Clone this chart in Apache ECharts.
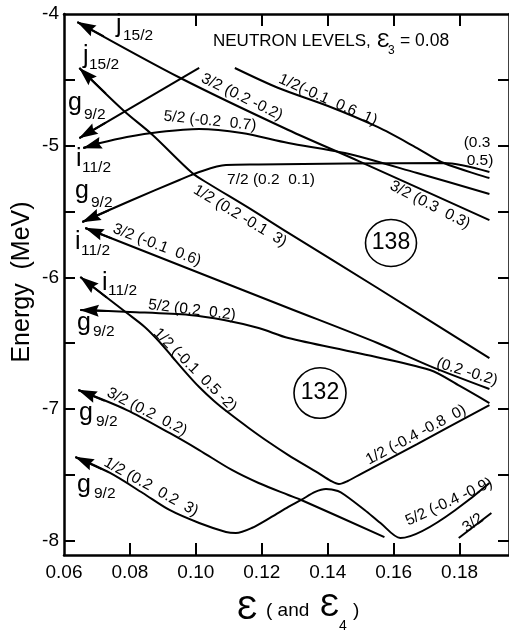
<!DOCTYPE html>
<html><head><meta charset="utf-8">
<script src="https://cdn.jsdelivr.net/npm/echarts@6.0.0/dist/echarts.min.js"></script>
<style>html,body{margin:0;padding:0;background:#fff}#c{width:509px;height:631px}</style>
</head><body><div id="c"></div>
<script>
// ---- axis ticks / labels ----
const xLabelValues = [0.06, 0.08, 0.10, 0.12, 0.14, 0.16, 0.18];
const xBottomTicks = [0.08, 0.10, 0.12, 0.14, 0.16, 0.18];
const xTopTicks = [0.10, 0.12, 0.14, 0.16, 0.18];
const yLabelValues = [-8, -7, -6, -5, -4];
const yTickValues = [-8, -7.5, -7, -6.5, -6, -5.5, -5, -4.5];

// ---- level curves [epsilon, energy MeV]; arrow curves listed from the arrow tip ----
const j15Upper = [[0.06406,-4.061],[0.09531,-4.486],[0.12806,-4.881],[0.14940,-5.117],[0.18906,-5.565]];
const oneHalfTop = [[0.11183,-4.410],[0.12505,-4.562],[0.14009,-4.699],[0.15511,-4.858],[0.16713,-5.018],[0.17524,-5.132],[0.18906,-5.246]];
const fiveHalfUpper = [[0.06586,-5.018],[0.07097,-4.980],[0.07908,-4.934],[0.08899,-4.896],[0.10101,-4.873],[0.11394,-4.904],[0.12806,-4.980],[0.14519,-5.056],[0.16713,-5.208],[0.18906,-5.367]];
const g9Upper = [[0.06466,-4.942],[0.10101,-4.410]];
const j15Lower = [[0.06466,-4.410],[0.07788,-4.729],[0.08689,-4.919],[0.09891,-5.208],[0.10402,-5.291],[0.11604,-5.473],[0.12806,-5.663],[0.15511,-6.081],[0.18906,-6.613]];
const sevenHalf = [[0.06556,-5.580],[0.07998,-5.420],[0.09501,-5.261],[0.10101,-5.200],[0.10913,-5.147],[0.11904,-5.143],[0.14609,-5.136],[0.17524,-5.132],[0.18906,-5.200]];
const threeHalfMid = [[0.06646,-5.625],[0.09801,-5.937],[0.12806,-6.233],[0.15511,-6.499],[0.17103,-6.674],[0.18906,-6.848]];
const i11Lower = [[0.06496,-5.998],[0.07908,-6.271],[0.08449,-6.377],[0.08900,-6.491],[0.09290,-6.605],[0.09711,-6.727],[0.10101,-6.833],[0.10552,-6.939],[0.11003,-7.031],[0.11604,-7.144],[0.12205,-7.251],[0.12806,-7.350],[0.13708,-7.486],[0.14099,-7.547],[0.14339,-7.570],[0.14609,-7.547],[0.15000,-7.494],[0.16713,-7.266],[0.18906,-6.970]];
const fiveHalfMid = [[0.06496,-6.248],[0.07998,-6.263],[0.09801,-6.286],[0.10853,-6.324],[0.11904,-6.385],[0.12806,-6.461],[0.14910,-6.575],[0.17103,-6.704],[0.18005,-6.825],[0.18906,-6.955]];
const threeHalfLow = [[0.06436,-6.856],[0.07908,-7.008],[0.09200,-7.182],[0.10101,-7.312],[0.11093,-7.463],[0.11904,-7.562],[0.12806,-7.653],[0.13197,-7.691],[0.15721,-7.973]];
const oneHalfLow = [[0.06346,-7.365],[0.07397,-7.486],[0.08389,-7.638],[0.09200,-7.767],[0.10101,-7.866],[0.10913,-7.934],[0.11213,-7.942],[0.11694,-7.904],[0.12295,-7.820],[0.12806,-7.744],[0.13197,-7.691],[0.13618,-7.630],[0.13948,-7.608],[0.14309,-7.623],[0.14519,-7.653],[0.15120,-7.767],[0.15601,-7.866],[0.16202,-7.980],[0.18906,-7.562]];
const threeHalfStub = [[0.17975,-7.980],[0.18966,-7.790]];

const arrowCurves = [j15Upper, fiveHalfUpper, g9Upper, j15Lower, sevenHalf, threeHalfMid, i11Lower, fiveHalfMid, threeHalfLow, oneHalfLow];
const plainCurves = [oneHalfTop, threeHalfStub];

// ---- texts ----
const FF = '"Liberation Sans", Arial, Helvetica, sans-serif';
const lineLabels = [
  ['3/2 (0.2 -0.2)', 242, 97, -26],
  ['1/2(-0.1  0.6  1)', 328, 100, -24],
  ['5/2 (-0.2  0.7)', 210, 121, -6],
  ['7/2 (0.2  0.1)', 271, 180, 0],
  ['1/2 (0.2 -0.1  3)', 240, 216, -31],
  ['3/2 (0.3  0.3)', 430, 205, -27],
  ['(0.3', 477, 143, 0],
  ['0.5)', 480, 161, 0],
  ['3/2 (-0.1  0.6)', 157, 245, -21],
  ['5/2 (0.2  0.2)', 192, 310, -7],
  ['1/2 (-0.1  0.5 -2)', 195, 370, -45],
  ['3/2 (0.2  0.2)', 147, 412, -27],
  ['1/2 (0.2  0.2  3)', 151, 487, -29],
  ['(0.2 -0.2)', 467, 372, -17],
  ['1/2 (-0.4 -0.8  0)', 416, 435, 28],
  ['5/2 (-0.4 -0.9)', 449, 502, 25],
  ['3/2', 473, 523, 36]
];
// [main, sub, mainLeft, mainBaseline, subLeft, subBaseline]
const orbitLabels = [
  ['j','15/2',116,33,123,40.5],
  ['j','15/2',83,64,89,69.5],
  ['g','9/2',68,111,84,119.5],
  ['i','11/2',76,167,82,173],
  ['g','9/2',75,199,91,207.5],
  ['i','11/2',75,250,81,256],
  ['i','11/2',102,290.5,108,295.5],
  ['g','9/2',77,331,93,337],
  ['g','9/2',79,421,96,427],
  ['g','9/2',77,492.5,94,498.5]
];

const chart = echarts.init(document.getElementById('c'), null, {renderer:'canvas'});

function txt(text, left, baseline, size, extra) {
  return Object.assign({type:'text', x:left, y:baseline - 0.31*size, silent:true,
    style:{text:text, fontSize:size, fontFamily:FF, fill:'#000', align:'left', verticalAlign:'middle'}}, extra||{});
}
const graphics = [];
lineLabels.forEach(l => graphics.push({type:'text', x:l[1], y:l[2], rotation:l[3]*Math.PI/180, silent:true,
  style:{text:l[0], fontSize:15.5, fontFamily:FF, fill:'#000', align:'center', verticalAlign:'middle'}}));
orbitLabels.forEach(o => { graphics.push(txt(o[0], o[2], o[3], 25)); graphics.push(txt(o[1], o[4], o[5], 15.5)); });
// title
graphics.push(txt('NEUTRON LEVELS,', 213, 47, 17));
graphics.push(txt('\u0190', 377, 48, 21));
graphics.push(txt('3', 388, 54, 12));
graphics.push(txt('= 0.08', 400, 47, 17.5));
// x axis title
graphics.push(txt('\u0190', 237, 620, 34));
graphics.push(txt('( and', 266, 617, 19));
graphics.push(txt('\u0190', 320, 617, 32));
graphics.push(txt('4', 339, 630, 14));
graphics.push(txt(')', 353, 617, 19));
// y axis title
graphics.push({type:'text', x:22, y:282, rotation:Math.PI/2, silent:true,
  style:{text:'Energy  (MeV)', fontSize:25, fontFamily:FF, fill:'#000', align:'center', verticalAlign:'middle'}});
// circled numbers
graphics.push({type:'circle', x:391, y:243, scaleY:0.92, shape:{cx:0, cy:0, r:25.5}, style:{fill:'none', stroke:'#000', lineWidth:1.6}, silent:true});
graphics.push({type:'text', x:391, y:243, silent:true, style:{text:'138', fontSize:23, fontFamily:FF, fill:'#000', align:'center', verticalAlign:'middle'}});
graphics.push({type:'circle', x:320, y:393, scaleY:0.97, shape:{cx:0, cy:0, r:26}, style:{fill:'none', stroke:'#000', lineWidth:1.6}, silent:true});
graphics.push({type:'text', x:320, y:393, silent:true, style:{text:'132', fontSize:23, fontFamily:FF, fill:'#000', align:'center', verticalAlign:'middle'}});

const axisLineStyle = {color:'#000', width:2.5};
const ARROW = 'path://M6,0 L12,19 L6,16.5 L0,19 Z';
function arrowSeg(curve) {
  const p0 = curve[0], p1 = curve[1];
  const f = Math.min(1, 0.008 / Math.abs(p1[0] - p0[0]));
  const start = [p0[0] + f*(p1[0]-p0[0]), p0[1] + f*(p1[1]-p0[1])];
  return [[{coord:start}, {coord:p0}]];
}
const series = [];
arrowCurves.forEach(c => series.push({type:'line', data:c, symbol:'none', smooth:0.3, animation:false, silent:true,
  lineStyle:{color:'#000', width:2},
  markLine:{silent:true, animation:false, symbol:['none', ARROW], symbolSize:[12,19], symbolOffset:[0,[0,9]],
    lineStyle:{color:'#000', width:2, type:'solid'}, label:{show:false}, emphasis:{disabled:true}, data:arrowSeg(c)}}));
plainCurves.forEach(c => series.push({type:'line', data:c, symbol:'none', smooth:0.3, animation:false, silent:true,
  lineStyle:{color:'#000', width:2}}));

chart.setOption({
  animation:false,
  backgroundColor:'#fff',
  grid:{left:64, top:14, width:449, height:541},
  xAxis:[
    {type:'value', position:'bottom', min:0.06, max:0.195, splitLine:{show:false},
     axisLine:{lineStyle:axisLineStyle},
     axisTick:{show:true, inside:true, length:12, lineStyle:{color:'#000', width:2}, customValues:xBottomTicks},
     axisLabel:{customValues:xLabelValues, formatter:v => v.toFixed(2), fontSize:19, fontFamily:FF, color:'#000', margin:8}},
    {type:'value', position:'top', min:0.06, max:0.195, splitLine:{show:false},
     axisLine:{lineStyle:axisLineStyle},
     axisTick:{show:true, inside:true, length:12, lineStyle:{color:'#000', width:2}, customValues:xTopTicks},
     axisLabel:{show:false}}
  ],
  yAxis:[
    {type:'value', position:'left', min:-8.109, max:-4, splitLine:{show:false},
     axisLine:{show:true, lineStyle:axisLineStyle},
     axisTick:{show:true, inside:true, length:11, lineStyle:{color:'#000', width:2}, customValues:yTickValues},
     axisLabel:{customValues:yLabelValues, formatter:v => String(Math.round(v)), fontSize:19, fontFamily:FF, color:'#000', margin:5}},
    {type:'value', position:'right', min:-8.109, max:-4, splitLine:{show:false},
     axisLine:{show:true, lineStyle:axisLineStyle},
     axisTick:{show:true, inside:true, length:11, lineStyle:{color:'#000', width:2}, customValues:yTickValues},
     axisLabel:{show:false}}
  ],
  series:series,
  graphic:graphics
});
</script></body></html>
